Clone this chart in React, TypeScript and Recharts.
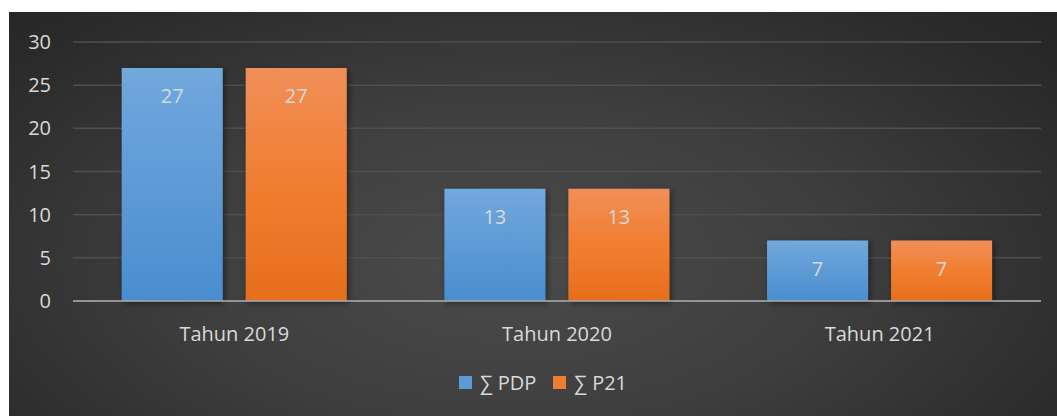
import { Bar, BarChart, CartesianGrid, LabelList, Legend, ReferenceLine, XAxis, YAxis } from "recharts";

const categories = ["Tahun 2019", "Tahun 2020", "Tahun 2021"];
const pdpValues = [27, 13, 7];
const p21Values = [27, 13, 7];
const yTicks = [0, 5, 10, 15, 20, 25, 30];

const data = categories.map((name, i) => ({ name, pdp: pdpValues[i], p21: p21Values[i] }));

const FONT = "'Open Sans', 'Noto Sans', sans-serif";
const TEXT = "#d9d9d9";

const legendItems = [
  { label: "∑ PDP", color: "#5b9bd5" },
  { label: "∑ P21", color: "#ed7d31" },
];

function ChartLegend() {
  return (
    <div style={{ display: "flex", alignItems: "center", fontFamily: FONT, fontSize: 20, color: TEXT }}>
      {legendItems.map((it) => (
        <div key={it.label} style={{ display: "flex", alignItems: "center", marginRight: 17 }}>
          <span style={{ width: 13, height: 13, background: it.color, marginRight: 8, display: "inline-block" }} />
          <span>{it.label}</span>
        </div>
      ))}
    </div>
  );
}

export default function App() {
  return (
    <div style={{ position: "absolute", left: 0, top: 0, width: 1057, height: 416, background: "#fff" }}>
      <div
        style={{
          position: "absolute",
          left: 9,
          top: 12,
          width: 1048,
          height: 404,
          background: "radial-gradient(ellipse 70% 90% at 48% 62%, #4b4b4b 0%, #3e3e3e 45%, #2b2b2b 85%, #262626 100%)",
        }}
      >
        <BarChart
          width={1048}
          height={404}
          data={data}
          margin={{ top: 30, right: 16, left: 14, bottom: 55 }}
          barCategoryGap="15.1%"
          barGap={23}
        >
          <defs>
            <linearGradient id="gBlue" x1="0" y1="0" x2="0" y2="1">
              <stop offset="0%" stopColor="#71a8dd" />
              <stop offset="100%" stopColor="#4a8dcf" />
            </linearGradient>
            <linearGradient id="gOrange" x1="0" y1="0" x2="0" y2="1">
              <stop offset="0%" stopColor="#f18f59" />
              <stop offset="50%" stopColor="#f17e30" />
              <stop offset="100%" stopColor="#e66e1c" />
            </linearGradient>
            <filter id="shadow" x="-20%" y="-20%" width="140%" height="140%">
              <feDropShadow dx="2" dy="2" stdDeviation="3" floodColor="#000" floodOpacity="0.45" />
            </filter>
          </defs>
          <CartesianGrid vertical={false} stroke="#4f4f4f" strokeWidth={1.5} />
          <XAxis
            dataKey="name"
            height={60}
            axisLine={false}
            tickLine={false}
            tickMargin={20}
            tick={{ fill: TEXT, fontSize: 20, fontFamily: FONT }}
          />
          <YAxis
            domain={[0, 30]}
            ticks={yTicks}
            width={50}
            axisLine={false}
            tickLine={false}
            tickMargin={16}
            tick={{ fill: TEXT, fontSize: 20, fontFamily: FONT }}
          />
          <Legend
            layout="horizontal"
            verticalAlign="middle"
            align="center"
            wrapperStyle={{ top: 357, left: 450, width: "auto" }}
            content={() => <ChartLegend />}
          />
          <Bar dataKey="pdp" fill="url(#gBlue)" filter="url(#shadow)" isAnimationActive={false}>
            <LabelList dataKey="pdp" position="insideTop" offset={21} fill={TEXT} fontSize={20} fontFamily={FONT} />
          </Bar>
          <Bar dataKey="p21" fill="url(#gOrange)" filter="url(#shadow)" isAnimationActive={false}>
            <LabelList dataKey="p21" position="insideTop" offset={21} fill={TEXT} fontSize={20} fontFamily={FONT} />
          </Bar>
          <ReferenceLine y={0} stroke="#a6a6a6" strokeOpacity={0.8} strokeWidth={2} />
        </BarChart>
      </div>
    </div>
  );
}
